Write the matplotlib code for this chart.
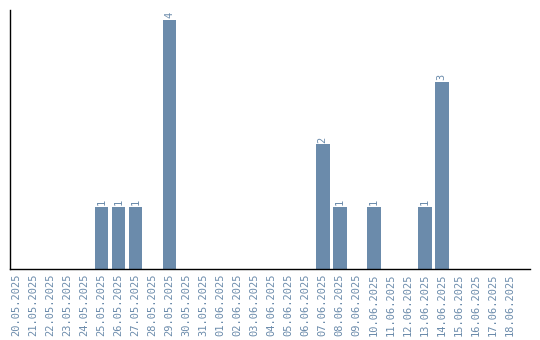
import matplotlib
matplotlib.use("Agg")
import matplotlib.pyplot as plt
import numpy as np

dates = ["20.05.2025", "21.05.2025", "22.05.2025", "23.05.2025", "24.05.2025",
         "25.05.2025", "26.05.2025", "27.05.2025", "28.05.2025", "29.05.2025",
         "30.05.2025", "31.05.2025", "01.06.2025", "02.06.2025", "03.06.2025",
         "04.06.2025", "05.06.2025", "06.06.2025", "07.06.2025", "08.06.2025",
         "09.06.2025", "10.06.2025", "11.06.2025", "12.06.2025", "13.06.2025",
         "14.06.2025", "15.06.2025", "16.06.2025", "17.06.2025", "18.06.2025"]
counts = [0, 0, 0, 0, 0, 1, 1, 1, 0, 4,
          0, 0, 0, 0, 0, 0, 0, 0, 2, 1,
          0, 1, 0, 0, 1, 3, 0, 0, 0, 0]

col = "#6b8bab"
plt.rcParams['font.family'] = ['DejaVu Sans Mono']

fig = plt.figure(figsize=(5.4, 3.4), dpi=100)
ax = fig.add_axes([10/540, 71/340, 520/540, 259/340])
x = np.arange(len(dates))
ax.bar(x, counts, width=0.82, color=col)
for i, v in enumerate(counts):
    if v > 0:
        ax.text(i, v + 0.03, str(v), rotation=90, ha="center", va="bottom",
                fontsize=7.5, color=col)
ax.set_xlim(-0.38, 30.2)
ax.set_ylim(0, 4.16)
ax.set_xticks(x)
ax.set_xticklabels(dates, rotation=90, fontsize=7.5, color=col)
ax.tick_params(axis="x", length=0, pad=3.5)
ax.set_yticks([])
ax.spines["top"].set_visible(False)
ax.spines["right"].set_visible(False)
ax.spines["left"].set_linewidth(1.0)
ax.spines["bottom"].set_linewidth(1.0)
fig.savefig("out.png", dpi=100)
